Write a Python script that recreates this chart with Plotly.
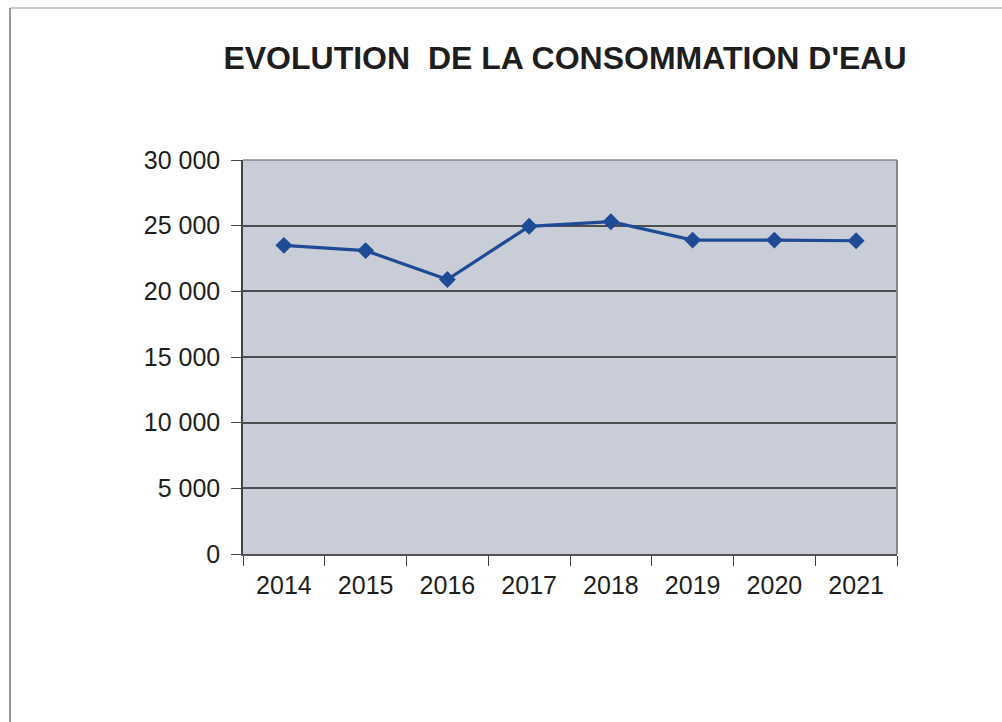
import plotly.graph_objects as go

years = ["2014", "2015", "2016", "2017", "2018", "2019", "2020", "2021"]
consumption = [23500, 23100, 20900, 24950, 25300, 23900, 23900, 23850]
y_ticks = [0, 5000, 10000, 15000, 20000, 25000, 30000]
y_labels = [f"{v:,}".replace(",", " ") for v in y_ticks]

W, H = 1002, 722
L, R, T, B = 243, 105, 160, 168
pw, ph = W - L - R, H - T - B

def px_x(x):
    return (x - L) / pw

def px_y(y):
    return (H - B - y) / ph

fig = go.Figure()
fig.add_trace(go.Scatter(
    x=years, y=consumption, mode="lines+markers",
    line=dict(color="#1f4a96", width=3.2),
    marker=dict(symbol="diamond", size=13, color="#1f4a96"),
    showlegend=False,
))

fig.update_layout(
    width=W, height=H,
    margin=dict(l=L, r=R, t=T, b=B),
    paper_bgcolor="white",
    plot_bgcolor="#c9cdd7",
    font=dict(family="Liberation Sans, Arial", color="#1e1e1e", size=25),
    title=dict(text="<b>EVOLUTION  DE LA CONSOMMATION D'EAU</b>",
               x=565 / W, xanchor="center", y=1 - 58 / H, yanchor="middle",
               font=dict(size=32, color="#1e1e1e")),
    xaxis=dict(type="category", tickson="boundaries", ticks="outside",
               ticklen=10, tickcolor="#444", showgrid=False,
               showline=True, linecolor="#555", linewidth=1.5,
               ticklabelstandoff=8,
               tickfont=dict(size=25), range=[-0.5, 7.5]),
    yaxis=dict(range=[0, 30000], tickvals=y_ticks, ticktext=y_labels,
               ticks="outside", ticklen=10, tickcolor="#444",
               showgrid=True, gridcolor="#4e4e4e", gridwidth=1.5,
               showline=True, linecolor="#444", linewidth=1.5,
               ticklabelstandoff=6,
               zeroline=False, tickfont=dict(size=25)),
    shapes=[
        dict(type="line", xref="paper", yref="paper",
             x0=1, x1=1, y0=0, y1=1, line=dict(color="#888", width=2)),
        dict(type="line", xref="paper", yref="paper",
             x0=0, x1=1, y0=1, y1=1, line=dict(color="#888", width=1.5)),
        dict(type="line", xref="paper", yref="paper",
             x0=px_x(10), x1=px_x(10), y0=px_y(8), y1=px_y(H + 10),
             line=dict(color="#777", width=1.5)),
        dict(type="line", xref="paper", yref="paper",
             x0=px_x(10), x1=px_x(W + 10), y0=px_y(8), y1=px_y(8),
             line=dict(color="#999", width=1)),
    ],
)

fig.write_html("out.html", config={"displayModeBar": False},
               post_script="document.body.style.margin='0';")
